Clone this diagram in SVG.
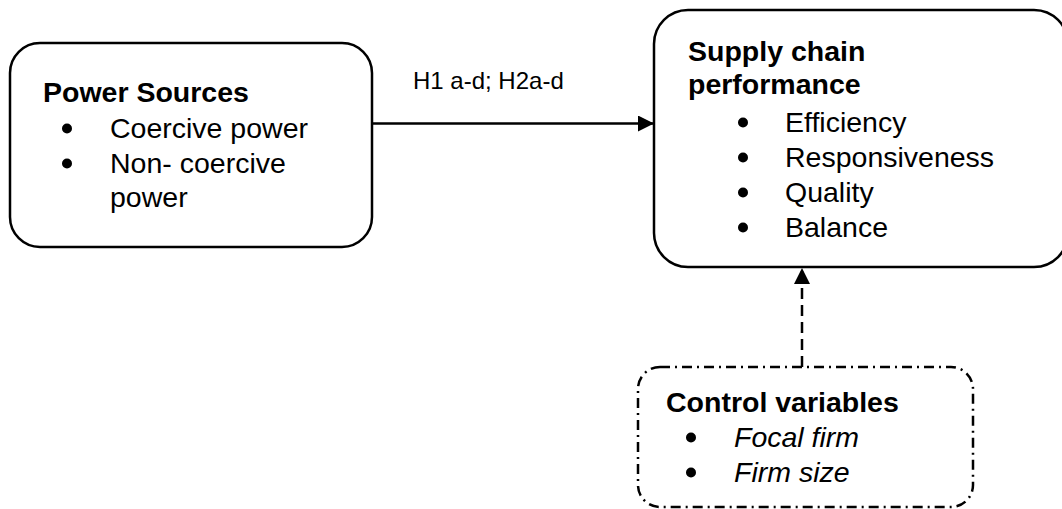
<svg xmlns="http://www.w3.org/2000/svg" width="1062" height="509" viewBox="0 0 1062 509">
  <style>
    .box { fill: #ffffff; stroke: #000000; stroke-width: 2.5; }
    .dashdot { stroke-dasharray: 10 5 2 5; }
    .t { font-family: "Liberation Sans", Arial, sans-serif; font-size: 28.5px; fill: #000000; }
    .b { font-weight: bold; }
    .i { font-style: italic; }
    .lbl { font-family: "Liberation Sans", Arial, sans-serif; font-size: 24px; fill: #000000; }
    .dot { fill: #000000; }
    .edge { fill: none; stroke: #000000; stroke-width: 2.5; }
  </style>
  <defs>
    <marker id="head" viewBox="0 0 16 16" refX="16" refY="8" markerWidth="16" markerHeight="16" orient="auto" markerUnits="userSpaceOnUse">
      <path d="M0,0 L16,8 L0,16 Z" fill="#000000"/>
    </marker>
  </defs>

  <rect width="1062" height="509" fill="#ffffff"/>

  <!-- connectors -->
  <g id="connectors">
    <line class="edge" x1="372" y1="123.5" x2="654" y2="123.5" marker-end="url(#head)"/>
    <line class="edge" x1="802" y1="367" x2="802" y2="268" stroke-dasharray="11 6" marker-end="url(#head)"/>
    <text class="lbl" x="413" y="89">H1 a-d; H2a-d</text>
  </g>

  <!-- power sources -->
  <g id="power-sources">
    <rect class="box" x="10" y="43" width="362" height="204" rx="30" ry="30"/>
    <text class="t b" x="43" y="102">Power Sources</text>
    <circle class="dot" cx="67" cy="128.5" r="5"/>
    <text class="t" x="110" y="138">Coercive power</text>
    <circle class="dot" cx="67" cy="163.5" r="5"/>
    <text class="t" x="110" y="173">Non- coercive</text>
    <text class="t" x="110" y="207">power</text>
  </g>

  <!-- supply chain performance -->
  <g id="supply-chain-performance">
    <rect class="box" x="654" y="10" width="414" height="257" rx="34" ry="34"/>
    <text class="t b" x="688" y="61">Supply chain</text>
    <text class="t b" x="688" y="94">performance</text>
    <circle class="dot" cx="743" cy="122.5" r="5"/>
    <text class="t" x="785" y="132">Efficiency</text>
    <circle class="dot" cx="743" cy="157.5" r="5"/>
    <text class="t" x="785" y="167">Responsiveness</text>
    <circle class="dot" cx="743" cy="192.5" r="5"/>
    <text class="t" x="785" y="202">Quality</text>
    <circle class="dot" cx="743" cy="227.5" r="5"/>
    <text class="t" x="785" y="237">Balance</text>
  </g>

  <!-- control variables -->
  <g id="control-variables">
    <rect class="box dashdot" x="638" y="367" width="335" height="140" rx="22" ry="22"/>
    <text class="t b" x="666" y="412">Control variables</text>
    <circle class="dot" cx="691" cy="437.5" r="5"/>
    <text class="t i" x="734" y="447">Focal firm</text>
    <circle class="dot" cx="691" cy="472.5" r="5"/>
    <text class="t i" x="734" y="482">Firm size</text>
  </g>
</svg>
